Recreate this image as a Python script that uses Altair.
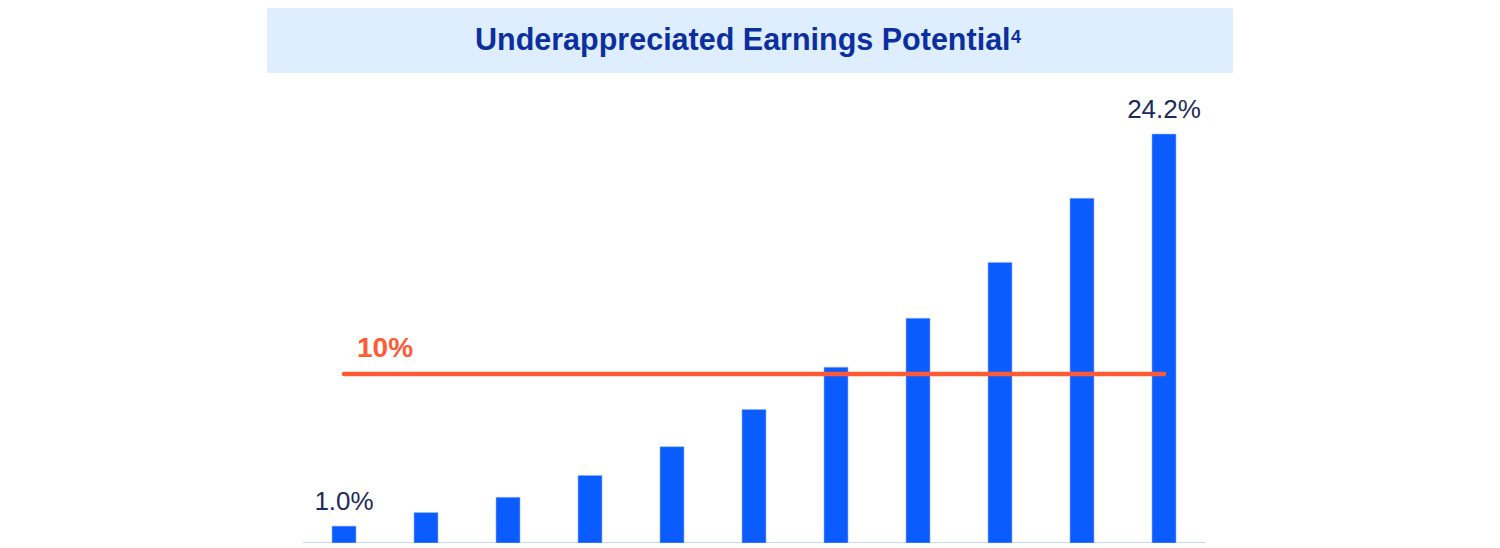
import altair as alt
import pandas as pd

# ---- data ----
categories = ["A", "B", "C", "D", "E", "F", "G", "H", "I", "J", "K"]
values = [1.0, 1.8, 2.7, 4.0, 5.7, 7.9, 10.4, 13.3, 16.6, 20.4, 24.2]
value_labels = ["1.0%", "", "", "", "", "", "", "", "", "", "24.2%"]
threshold = [10.0]
threshold_label = ["10%"]
title_text = ["Underappreciated Earnings Potential"]
title_sup = ["4"]

bars_df = pd.DataFrame({"cat": categories, "value": values, "label": value_labels})
thr_df = pd.DataFrame({"start": [categories[0]], "end": [categories[-1]],
                       "value": threshold, "label": threshold_label})
title_df = pd.DataFrame({"t": title_text, "s": title_sup})
base_df = pd.DataFrame({"zero": [0.0]})

W, H = 1484, 535
x_scale = alt.Scale(domain=categories, range=[295, 1197], paddingInner=0, paddingOuter=0)
y_scale = alt.Scale(domain=[0, 31.66], nice=False, zero=True)

FONT = "Liberation Sans"
TITLE_COLOR = "#0b2f9e"

base = alt.Chart(bars_df)

bars = base.mark_bar(size=24, color="#0a5cff", stroke="#8fb3ff", strokeWidth=0.6).encode(
    x=alt.X("cat:N", scale=x_scale, axis=None),
    y=alt.Y("value:Q", scale=y_scale, axis=None),
)

bar_labels = base.mark_text(fontSize=26, font=FONT, color="#1e2b5a",
                            baseline="alphabetic", dy=-16).encode(
    x=alt.X("cat:N", scale=x_scale, axis=None),
    y=alt.Y("value:Q", scale=y_scale, axis=None),
    text="label:N",
)

baseline_rule = alt.Chart(base_df).mark_rule(color="#c9d8f8", strokeWidth=2).encode(
    x=alt.value(295), x2=alt.value(1197),
    y=alt.Y("zero:Q", scale=y_scale, axis=None),
)

thr_rule = alt.Chart(thr_df).mark_rule(color="#ff5a36", strokeWidth=4.5, strokeCap="round").encode(
    x=alt.X("start:N", scale=x_scale, axis=None),
    x2="end:N",
    y=alt.Y("value:Q", scale=y_scale, axis=None),
)

thr_text = alt.Chart(thr_df).mark_text(fontSize=28, font=FONT, fontWeight="bold", color="#ff5a36",
                                       align="left", baseline="alphabetic", dx=13, dy=-17).encode(
    x=alt.X("start:N", scale=x_scale, axis=None),
    y=alt.Y("value:Q", scale=y_scale, axis=None),
    text="label:N",
)

title_box = alt.Chart(title_df).mark_rect(color="#dfeefe").encode(
    x=alt.value(259), x2=alt.value(1225), y=alt.value(0), y2=alt.value(65),
)

title_txt = alt.Chart(title_df).mark_text(fontSize=30.5, font=FONT, fontWeight="bold", color=TITLE_COLOR,
                                          align="left", baseline="alphabetic").encode(
    x=alt.value(467), y=alt.value(42), text="t:N",
)

title_sup_txt = alt.Chart(title_df).mark_text(fontSize=18, font=FONT, fontWeight="bold", color=TITLE_COLOR,
                                              align="left", baseline="alphabetic").encode(
    x=alt.value(1003), y=alt.value(35), text="s:N",
)

chart = alt.layer(title_box, title_txt, title_sup_txt, baseline_rule, bars, bar_labels,
                  thr_rule, thr_text).properties(
    width=W, height=H, padding=0, autosize=alt.AutoSizeParams(type="none"),
    background="white",
).configure_view(stroke=None)

chart.save("out.html", embed_options={"renderer": "svg", "actions": False})
